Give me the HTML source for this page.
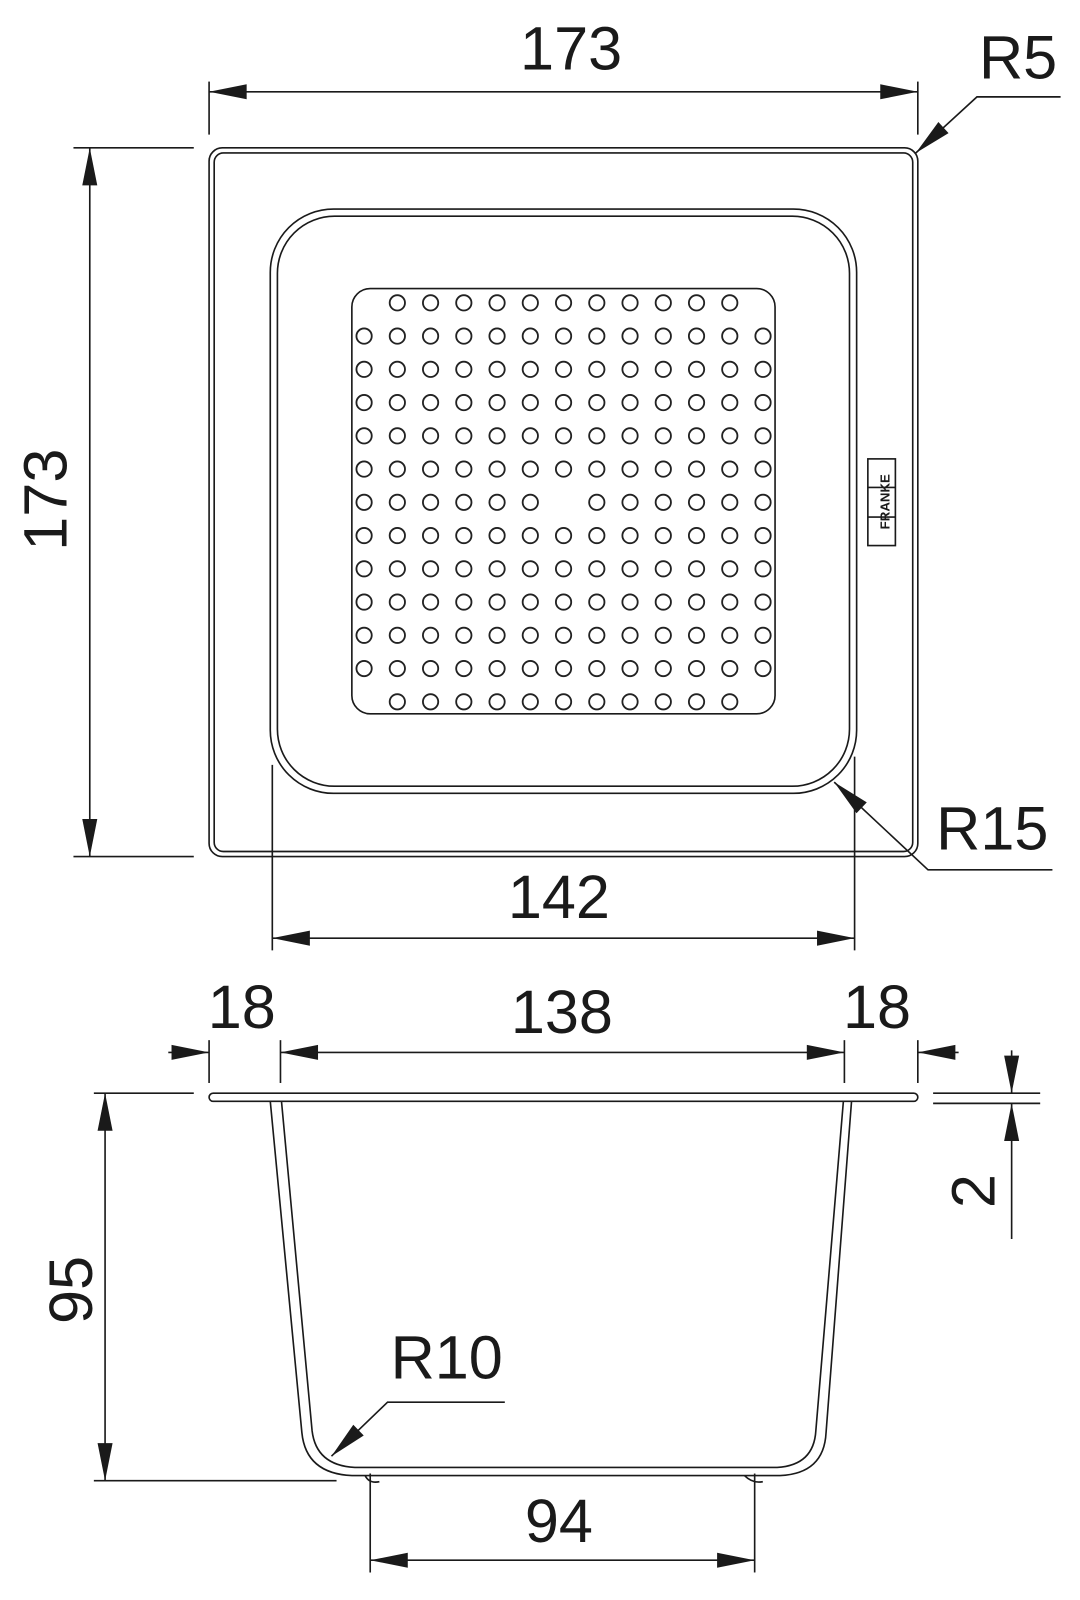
<!DOCTYPE html>
<html><head><meta charset="utf-8"><style>
html,body{margin:0;padding:0;background:#fff;}
svg{display:block;}
text{font-family:"Liberation Sans",Arial,sans-serif;fill:#1a1a1a;font-size:60px;}
</style></head><body>
<svg width="1080" height="1600" viewBox="0 0 1059 1569" xmlns="http://www.w3.org/2000/svg">
<defs>
<marker id="a" markerUnits="userSpaceOnUse" markerWidth="40" markerHeight="20" viewBox="-36 -8 38 16" refX="0" refY="0" orient="auto-start-reverse">
<path d="M0,0 L-35,-7 L-35,7 z" fill="#1a1a1a"/>
</marker>
<g id="row13" fill="none" stroke="#222" stroke-width="1.8">
<circle cx="357" cy="0" r="7.5"/><circle cx="389.6" cy="0" r="7.5"/><circle cx="422.2" cy="0" r="7.5"/><circle cx="454.8" cy="0" r="7.5"/><circle cx="487.4" cy="0" r="7.5"/><circle cx="520" cy="0" r="7.5"/><circle cx="552.6" cy="0" r="7.5"/><circle cx="585.2" cy="0" r="7.5"/><circle cx="617.8" cy="0" r="7.5"/><circle cx="650.4" cy="0" r="7.5"/><circle cx="683" cy="0" r="7.5"/><circle cx="715.6" cy="0" r="7.5"/><circle cx="748.2" cy="0" r="7.5"/>
</g>
<g id="row11" fill="none" stroke="#222" stroke-width="1.8">
<circle cx="389.6" cy="0" r="7.5"/><circle cx="422.2" cy="0" r="7.5"/><circle cx="454.8" cy="0" r="7.5"/><circle cx="487.4" cy="0" r="7.5"/><circle cx="520" cy="0" r="7.5"/><circle cx="552.6" cy="0" r="7.5"/><circle cx="585.2" cy="0" r="7.5"/><circle cx="617.8" cy="0" r="7.5"/><circle cx="650.4" cy="0" r="7.5"/><circle cx="683" cy="0" r="7.5"/><circle cx="715.6" cy="0" r="7.5"/>
</g>
</defs>
<g stroke="#1a1a1a" fill="none" stroke-width="1.6">
<!-- top view -->
<line x1="205" y1="80" x2="205" y2="132"/><line x1="900" y1="80" x2="900" y2="132"/>
<line x1="205" y1="90" x2="900" y2="90" marker-start="url(#a)" marker-end="url(#a)"/>
<line x1="72" y1="145" x2="190" y2="145"/><line x1="72" y1="840" x2="190" y2="840"/>
<line x1="88" y1="145" x2="88" y2="840" marker-start="url(#a)" marker-end="url(#a)"/>
<rect x="205" y="145" width="695" height="695" rx="13"/>
<rect x="210" y="150" width="685" height="685" rx="9"/>
<rect x="265" y="205" width="575" height="573" rx="62"/>
<rect x="272" y="212" width="561" height="559" rx="56"/>
<rect x="345" y="283" width="415" height="417" rx="18"/>
<polyline points="1040,95 958,95 898,150" marker-end="url(#a)"/>
<polyline points="1032,853 910,853 818,767" marker-end="url(#a)"/>
<line x1="267" y1="750" x2="267" y2="932"/><line x1="838" y1="742" x2="838" y2="932"/>
<line x1="267" y1="920" x2="838" y2="920" marker-start="url(#a)" marker-end="url(#a)"/>
<rect x="851" y="450" width="27" height="85"/>
<line x1="851" y1="478" x2="878" y2="478"/><line x1="851" y1="507" x2="878" y2="507"/>
<!-- side view dims -->
<line x1="205" y1="1020" x2="205" y2="1062"/><line x1="275" y1="1020" x2="275" y2="1062"/>
<line x1="828" y1="1020" x2="828" y2="1062"/><line x1="900" y1="1020" x2="900" y2="1062"/>
<line x1="165" y1="1032" x2="205" y2="1032" marker-end="url(#a)"/>
<line x1="275" y1="1032" x2="828" y2="1032" marker-start="url(#a)" marker-end="url(#a)"/>
<line x1="940" y1="1032" x2="900" y2="1032" marker-end="url(#a)"/>
<line x1="92" y1="1072" x2="190" y2="1072"/><line x1="92" y1="1452" x2="330" y2="1452"/>
<line x1="103" y1="1072" x2="103" y2="1452" marker-start="url(#a)" marker-end="url(#a)"/>
<line x1="915" y1="1072" x2="1020" y2="1072"/><line x1="915" y1="1082" x2="1020" y2="1082"/>
<line x1="992" y1="1030" x2="992" y2="1072" marker-end="url(#a)"/>
<line x1="992" y1="1215" x2="992" y2="1082" marker-end="url(#a)"/>
<polyline points="495,1375 380,1375 325,1428" marker-end="url(#a)"/>
<line x1="363" y1="1445" x2="363" y2="1542"/><line x1="740" y1="1445" x2="740" y2="1542"/>
<line x1="363" y1="1530" x2="740" y2="1530" marker-start="url(#a)" marker-end="url(#a)"/>
<!-- body -->
<path d="M209,1072 H896 A4,4 0 0 1 896,1080 H209 A4,4 0 0 1 209,1072 Z"/>
<path d="M265,1080 L296,1405 Q300,1445 345,1447 L765,1447 Q808,1445 810,1405 L835,1080"/>
<path d="M276,1080 L306,1403 Q310,1437 348,1439 L762,1439 Q798,1437 800,1403 L827,1080"/>
<path d="M358,1447 Q362,1455 372,1453 M730,1447 Q738,1455 748,1453"/>
</g>
<g>
<use href="#row11" y="297"/>
<use href="#row13" y="329.6"/><use href="#row13" y="362.2"/><use href="#row13" y="394.8"/><use href="#row13" y="427.4"/><use href="#row13" y="460"/>
<g fill="none" stroke="#222" stroke-width="1.8">
<circle cx="357" cy="492.6" r="7.5"/><circle cx="389.6" cy="492.6" r="7.5"/><circle cx="422.2" cy="492.6" r="7.5"/><circle cx="454.8" cy="492.6" r="7.5"/><circle cx="487.4" cy="492.6" r="7.5"/><circle cx="520" cy="492.6" r="7.5"/><circle cx="585.2" cy="492.6" r="7.5"/><circle cx="617.8" cy="492.6" r="7.5"/><circle cx="650.4" cy="492.6" r="7.5"/><circle cx="683" cy="492.6" r="7.5"/><circle cx="715.6" cy="492.6" r="7.5"/><circle cx="748.2" cy="492.6" r="7.5"/>
</g>
<use href="#row13" y="525.2"/><use href="#row13" y="557.8"/><use href="#row13" y="590.4"/><use href="#row13" y="623"/><use href="#row13" y="655.6"/>
<use href="#row11" y="688.2"/>
</g>
<text x="560" y="68" text-anchor="middle">173</text>
<text transform="translate(65,490) rotate(-90)" text-anchor="middle">173</text>
<text x="960" y="77">R5</text>
<text x="918" y="833">R15</text>
<text x="548" y="900" text-anchor="middle">142</text>
<text x="237" y="1008" text-anchor="middle">18</text>
<text x="551" y="1013" text-anchor="middle">138</text>
<text x="860" y="1008" text-anchor="middle">18</text>
<text transform="translate(90,1265) rotate(-90)" text-anchor="middle">95</text>
<text transform="translate(975,1168) rotate(-90)" text-anchor="middle">2</text>
<text x="383" y="1352">R10</text>
<text x="548" y="1512" text-anchor="middle">94</text>
<text transform="translate(872,492) rotate(-90)" text-anchor="middle" style="font-size:13px;font-weight:bold">FRANKE</text>
</svg>
</body></html>
